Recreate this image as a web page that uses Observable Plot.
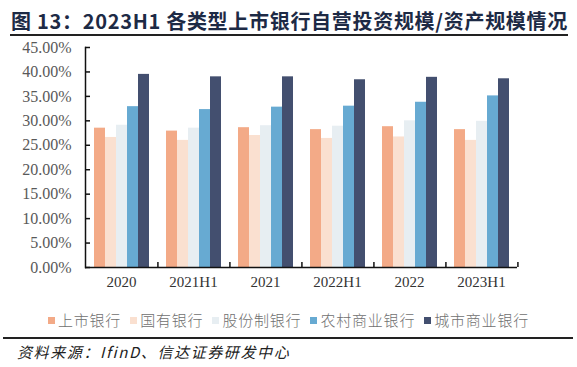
<!DOCTYPE html>
<html>
<head>
<meta charset="utf-8">
<script src="https://cdn.jsdelivr.net/npm/d3@7"></script>
<script src="https://cdn.jsdelivr.net/npm/@observablehq/plot@0.6"></script>
<style>
  html, body { margin: 0; padding: 0; background: #fff; }
  body { width: 577px; height: 367px; position: relative; overflow: hidden; font-family: "Noto Sans CJK SC", "Noto Sans", sans-serif; }
  #title { position: absolute; left: 11px; top: 6px; font-size: 20px; font-weight: bold; color: #1d2a45; white-space: nowrap; letter-spacing: 0.7px; }
  #topRule { position: absolute; left: 10px; width: 558px; top: 34px; height: 2px; background: #222; }
  #chart { position: absolute; left: 0; top: 40px; }
  #legend { position: absolute; left: 0; width: 577px; top: 310px; display: flex; justify-content: center; gap: 9px; font-size: 15px; color: #707070; letter-spacing: 0.8px; line-height: 20px; font-weight: 300; }
  #legend .item { display: flex; align-items: center; }
  #legend .sw { width: 7px; height: 7px; margin-right: 3px; }
  #bottomRule { position: absolute; left: 3px; width: 570px; top: 337px; height: 2px; background: #222; }
  #source { position: absolute; left: 17px; top: 341px; font-size: 15px; font-style: italic; color: #222; letter-spacing: 1.6px; white-space: nowrap; }
</style>
</head>
<body>
<div id="title">图 13：2023H1 各类型上市银行自营投资规模/资产规模情况</div>
<div id="topRule"></div>
<div id="chart"></div>
<div id="legend"></div>
<div id="bottomRule"></div>
<div id="source">资料来源：IfinD、信达证券研发中心</div>
<script>
const categories = ["2020", "2021H1", "2021", "2022H1", "2022", "2023H1"];
const seriesNames = ["上市银行", "国有银行", "股份制银行", "农村商业银行", "城市商业银行"];
const listedBanks   = [28.5, 27.9, 28.6, 28.2, 28.8, 28.2];
const stateBanks    = [26.6, 26.0, 27.0, 26.4, 26.7, 26.0];
const jointBanks    = [29.1, 28.5, 29.0, 28.9, 30.0, 29.9];
const ruralBanks    = [32.9, 32.3, 32.8, 33.0, 33.8, 35.1];
const cityBanks     = [39.5, 39.0, 39.0, 38.4, 38.9, 38.6];
const yTicks = [0, 5, 10, 15, 20, 25, 30, 35, 40, 45];
const colors = ["#f3aa87", "#fae0d0", "#e7eef2", "#67aad2", "#434f6f"];

const seriesValues = [listedBanks, stateBanks, jointBanks, ruralBanks, cityBanks];
const data = [];
categories.forEach((c, i) => {
  seriesNames.forEach((s, j) => data.push({cat: c, series: s, value: seriesValues[j][i]}));
});

const W = 577, H = 250, ML = 82, MR = 58, MT = 7, MB = 23;
const half = (W - ML - MR) / categories.length / 2;

const chart = Plot.plot({
  width: W, height: H,
  marginLeft: ML, marginRight: MR, marginTop: MT, marginBottom: MB,
  style: { fontFamily: "'Liberation Serif', 'Times New Roman', serif", background: "#fff" },
  fx: { domain: categories, padding: 0, label: null },
  x: { domain: seriesNames, paddingInner: 0, paddingOuter: 0.75, axis: null },
  y: { domain: [0, 45], label: null },
  color: { domain: seriesNames, range: colors },
  marks: [
    Plot.barY(data, { fx: "cat", x: "series", y: "value", fill: "series" }),
    Plot.ruleY([0], { stroke: "#111", strokeWidth: 1.5 }),
    Plot.frame({ anchor: "left", facetAnchor: "left", stroke: "#111", strokeWidth: 1.5 }),
    Plot.axisY({ ticks: yTicks, tickSize: 0, tickPadding: 14, tickFormat: d => d.toFixed(2) + "%", fontSize: 16, fill: "#595959", label: null }),
    Plot.axisY({ ticks: yTicks, tickSize: 5, dx: 5, text: null, stroke: "#111", strokeWidth: 1.5, label: null }),
    Plot.axisFx({ anchor: "bottom", tickSize: 0, tickPadding: 9, fontSize: 15, fill: "#333", label: null }),
    Plot.axisFx({ anchor: "bottom", tickSize: 5, dx: half, dy: -5, text: null, stroke: "#111", strokeWidth: 1.5, label: null })
  ]
});
document.getElementById("chart").appendChild(chart);

const legend = document.getElementById("legend");
seriesNames.forEach((s, i) => {
  const item = document.createElement("div");
  item.className = "item";
  const sw = document.createElement("span");
  sw.className = "sw";
  sw.style.background = colors[i];
  const t = document.createElement("span");
  t.textContent = s;
  item.appendChild(sw); item.appendChild(t);
  legend.appendChild(item);
});
</script>
</body>
</html>
